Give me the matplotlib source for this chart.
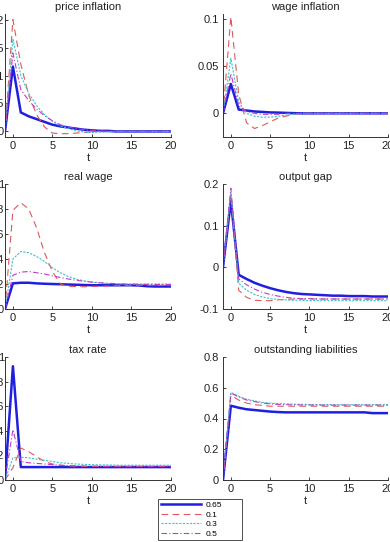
import matplotlib
matplotlib.use("Agg")
import matplotlib.pyplot as plt
from matplotlib.ticker import FuncFormatter
import numpy as np

plt.rcParams['font.family'] = ['Liberation Sans', 'DejaVu Sans']
plt.rcParams['axes.unicode_minus'] = False

t = list(range(-1, 21))
labels = ['0.65', '0.1', '0.3', '0.5']

price_065 = [0, 0.116, 0.034, 0.027, 0.022, 0.017, 0.012, 0.009, 0.007, 0.005, 0.003, 0.002, 0.001, 0.001, 0, 0, 0, 0, 0, 0, 0, 0]
price_01 = [0, 0.200, 0.120, 0.065, 0.030, 0.008, -0.003, -0.004, -0.004, -0.003, -0.002, -0.001, 0, 0, 0, 0, 0, 0, 0, 0, 0, 0]
price_03 = [0, 0.165, 0.100, 0.068, 0.046, 0.030, 0.018, 0.010, 0.005, 0.001, -0.001, -0.002, -0.001, -0.001, 0, 0, 0, 0, 0, 0, 0, 0]
price_05 = [0, 0.140, 0.075, 0.055, 0.040, 0.028, 0.019, 0.012, 0.008, 0.005, 0.003, 0.002, 0.001, 0, 0, 0, 0, 0, 0, 0, 0, 0]

wage_065 = [0, 0.031, 0.004, 0.003, 0.002, 0.0015, 0.001, 0.0008, 0.0005, 0.0002, 0, 0, 0, 0, 0, 0, 0, 0, 0, 0, 0, 0]
wage_01 = [0, 0.102, 0.020, -0.010, -0.016, -0.013, -0.009, -0.005, -0.003, -0.001, 0, 0, 0, 0, 0, 0, 0, 0, 0, 0, 0, 0]
wage_03 = [0, 0.058, 0.012, 0.000, -0.003, -0.004, -0.004, -0.003, -0.002, -0.001, 0, 0, 0, 0, 0, 0, 0, 0, 0, 0, 0, 0]
wage_05 = [0, 0.042, 0.008, 0.002, 0.000, -0.001, -0.001, -0.001, 0, 0, 0, 0, 0, 0, 0, 0, 0, 0, 0, 0, 0, 0]

rw_065 = [0, 0.205, 0.210, 0.210, 0.205, 0.202, 0.200, 0.198, 0.196, 0.194, 0.192, 0.190, 0.190, 0.190, 0.190, 0.190, 0.190, 0.188, 0.182, 0.180, 0.180, 0.180]
rw_01 = [0, 0.790, 0.850, 0.800, 0.650, 0.450, 0.300, 0.200, 0.180, 0.180, 0.178, 0.180, 0.182, 0.184, 0.186, 0.188, 0.190, 0.190, 0.190, 0.190, 0.190, 0.190]
rw_03 = [0, 0.400, 0.460, 0.450, 0.420, 0.380, 0.330, 0.290, 0.260, 0.240, 0.225, 0.215, 0.208, 0.204, 0.202, 0.200, 0.200, 0.200, 0.200, 0.200, 0.200, 0.200]
rw_05 = [0, 0.270, 0.295, 0.300, 0.290, 0.280, 0.265, 0.252, 0.240, 0.230, 0.222, 0.215, 0.210, 0.206, 0.203, 0.200, 0.199, 0.198, 0.197, 0.196, 0.195, 0.195]

og_065 = [0, 0.160, -0.018, -0.028, -0.037, -0.044, -0.050, -0.055, -0.059, -0.062, -0.064, -0.065, -0.066, -0.067, -0.068, -0.068, -0.069, -0.069, -0.069, -0.070, -0.070, -0.070]
og_01 = [0, 0.175, -0.055, -0.072, -0.079, -0.080, -0.080, -0.078, -0.077, -0.076, -0.076, -0.076, -0.076, -0.076, -0.076, -0.076, -0.076, -0.076, -0.076, -0.076, -0.076, -0.076]
og_03 = [0, 0.180, -0.038, -0.055, -0.065, -0.071, -0.075, -0.077, -0.078, -0.079, -0.079, -0.080, -0.080, -0.080, -0.080, -0.080, -0.080, -0.080, -0.080, -0.080, -0.080, -0.080]
og_05 = [0, 0.190, -0.028, -0.042, -0.052, -0.060, -0.065, -0.069, -0.072, -0.074, -0.075, -0.075, -0.076, -0.076, -0.076, -0.076, -0.076, -0.076, -0.076, -0.076, -0.076, -0.076]

tax_065 = [0, 0.925, 0.105, 0.105, 0.105, 0.105, 0.105, 0.105, 0.105, 0.105, 0.105, 0.105, 0.105, 0.105, 0.105, 0.105, 0.105, 0.105, 0.105, 0.105, 0.105, 0.105]
tax_01 = [0, 0.100, 0.260, 0.230, 0.190, 0.150, 0.130, 0.120, 0.115, 0.112, 0.110, 0.110, 0.110, 0.110, 0.110, 0.110, 0.110, 0.110, 0.110, 0.110, 0.110, 0.110]
tax_03 = [0, 0.180, 0.185, 0.180, 0.170, 0.160, 0.150, 0.140, 0.135, 0.130, 0.127, 0.125, 0.123, 0.122, 0.121, 0.120, 0.120, 0.120, 0.120, 0.120, 0.120, 0.120]
tax_05 = [0, 0.410, 0.150, 0.140, 0.135, 0.130, 0.125, 0.120, 0.117, 0.115, 0.113, 0.112, 0.111, 0.110, 0.110, 0.110, 0.110, 0.110, 0.110, 0.110, 0.110, 0.110]

liab_065 = [0, 0.483, 0.470, 0.460, 0.455, 0.450, 0.445, 0.442, 0.440, 0.440, 0.440, 0.440, 0.440, 0.440, 0.440, 0.440, 0.440, 0.440, 0.440, 0.435, 0.435, 0.435]
liab_01 = [0, 0.550, 0.520, 0.500, 0.490, 0.485, 0.480, 0.480, 0.480, 0.480, 0.480, 0.480, 0.480, 0.480, 0.480, 0.480, 0.480, 0.480, 0.480, 0.480, 0.480, 0.480]
liab_03 = [0, 0.570, 0.545, 0.525, 0.515, 0.505, 0.500, 0.497, 0.495, 0.493, 0.492, 0.491, 0.490, 0.490, 0.490, 0.490, 0.490, 0.490, 0.490, 0.490, 0.490, 0.490]
liab_05 = [0, 0.565, 0.540, 0.520, 0.510, 0.500, 0.495, 0.492, 0.490, 0.489, 0.488, 0.488, 0.487, 0.487, 0.487, 0.487, 0.487, 0.487, 0.487, 0.487, 0.487, 0.487]

panels = [
    ("price inflation", [price_065, price_01, price_03, price_05], (-0.01, 0.21), [0, 0.05, 0.1, 0.15, 0.2]),
    ("wage inflation", [wage_065, wage_01, wage_03, wage_05], (-0.025, 0.105), [0, 0.05, 0.1]),
    ("real wage", [rw_065, rw_01, rw_03, rw_05], (0, 1), [0, 0.2, 0.4, 0.6, 0.8, 1]),
    ("output gap", [og_065, og_01, og_03, og_05], (-0.1, 0.2), [-0.1, 0, 0.1, 0.2]),
    ("tax rate", [tax_065, tax_01, tax_03, tax_05], (0, 1), [0, 0.2, 0.4, 0.6, 0.8, 1]),
    ("outstanding liabilities", [liab_065, liab_01, liab_03, liab_05], (0, 0.8), [0, 0.2, 0.4, 0.6, 0.8]),
]

styles = [
    dict(color='#1f1fe0', lw=1.8, ls='-'),
    dict(color='#e0585a', lw=0.8, ls=(0, (6, 4))),
    dict(color='#3cc4c8', lw=0.8, ls=(0, (2, 1.2))),
    dict(color='#c03cc8', lw=0.8, ls=(0, (5, 2, 1, 2))),
]

W, H = 390, 542
fig = plt.figure(figsize=(W / 100, H / 100), dpi=100)
cols = [(5, 171), (223, 388)]
rows = [(14, 137), (184, 309), (357, 480)]

fmt = FuncFormatter(lambda v, p: '%g' % v)
handles = []
for i, (title, series, ylim, yt) in enumerate(panels):
    r, c = divmod(i, 2)
    x0, x1 = cols[c]
    y0, y1 = rows[r]
    ax = fig.add_axes([x0 / W, 1 - y1 / H, (x1 - x0) / W, (y1 - y0) / H])
    for s, st, lab in zip(series, styles, labels):
        h, = ax.plot(t, s, label=lab, **st)
        if i == 0:
            handles.append(h)
    ax.set_xlim(-1, 20)
    ax.set_ylim(*ylim)
    ax.set_xticks([0, 5, 10, 15, 20])
    ax.set_yticks(yt)
    ax.yaxis.set_major_formatter(fmt)
    for sp in ['top', 'right']:
        ax.spines[sp].set_visible(False)
    for sp in ['left', 'bottom']:
        ax.spines[sp].set_color('#333333')
        ax.spines[sp].set_linewidth(0.7)
    ax.tick_params(direction='in', length=2.5, width=0.6, labelsize=8, pad=3, colors='#222222')
    if c == 0:
        ax.tick_params(axis='y', pad=0.6)
    ax.set_title(title, fontsize=8, pad=3, color='#222222')
    ax.set_xlabel('t', fontsize=8, labelpad=1, color='#222222')

leg = fig.legend(handles=handles, labels=labels, loc='upper left',
                 bbox_to_anchor=(158 / W, 1 - 499 / H, 84 / W, 0.0), mode='expand',
                 fontsize=6, frameon=True, fancybox=False, edgecolor='#222222',
                 handlelength=4.9, handletextpad=0.5, labelspacing=0.2,
                 borderpad=0.3, borderaxespad=0)
leg.get_frame().set_linewidth(0.7)
leg._legend_box.align = 'left'
for hp in leg._legend_box.get_children():
    pass
# shift legend content to the right a little, like the reference
from matplotlib.offsetbox import VPacker
leg._legend_handle_box.set_offset = leg._legend_handle_box.set_offset
leg._legend_box.sep = 0

fig.canvas.draw()
fig.savefig('out.png', dpi=100)
